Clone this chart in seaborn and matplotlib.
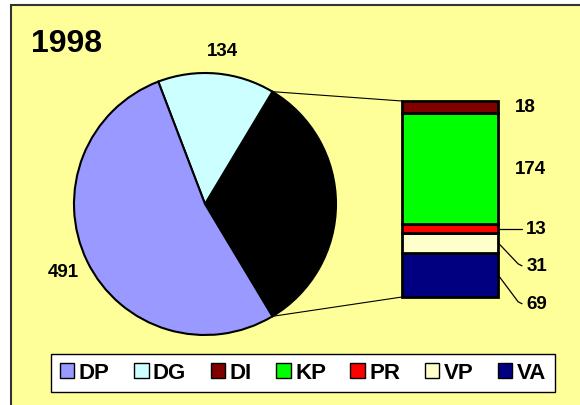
import matplotlib
matplotlib.use("Agg")
import matplotlib.pyplot as plt
from matplotlib.patches import Rectangle, Patch, ConnectionPatch
import seaborn as sns
import numpy as np

# Data
year = "1998"
pie_labels = ["DP", "DG"]
pie_values = [491, 134]
bar_labels = ["DI", "KP", "PR", "VP", "VA"]
bar_values = [18, 174, 13, 31, 69]
legend_labels = ["DP", "DG", "DI", "KP", "PR", "VP", "VA"]
palette = {
    "DP": "#9999FF",
    "DG": "#CCFFFF",
    "DI": "#800000",
    "KP": "#00FF00",
    "PR": "#FF0000",
    "VP": "#FFFFCC",
    "VA": "#000080",
}
other_color = "#000000"
panel_color = "#FFFF99"

sns.set_theme(style="white")
plt.rcParams["font.family"] = ["Liberation Sans", "DejaVu Sans"]
plt.rcParams["font.weight"] = "bold"
plt.rcParams["text.color"] = "black"

W, H = 580, 406
fig = plt.figure(figsize=(W / 100, H / 100), dpi=100, facecolor="white")

# Yellow chart panel with dark outline
fig.patches.append(Rectangle((11 / W, -0.1), 1.2, (H - 6) / H + 0.1,
                             transform=fig.transFigure, facecolor=panel_color,
                             edgecolor="#333333", linewidth=1.5, zorder=-5))

# Main axes in pixel-like units (y up)
ax = fig.add_axes([0, 0, 1, 1])
ax.patch.set_alpha(0)

other_total = sum(bar_values)
total = other_total + sum(pie_values)
pie_vals = [other_total, pie_values[1], pie_values[0]]
pie_cols = [other_color, palette["DG"], palette["DP"]]
start = -other_total / total * 360 / 2
cx, cy, r = 205, 201, 131
wedges, _ = ax.pie(pie_vals, colors=pie_cols, startangle=start, counterclock=True,
                   radius=r, center=(cx, cy),
                   wedgeprops=dict(edgecolor="black", linewidth=1.5))
ax.set_xlim(0, W)
ax.set_ylim(0, H)
ax.set_aspect("equal")
ax.set_axis_off()

# Value labels on the pie (DG and DP), with small nudges in pixels
for w, val, (ox, oy) in zip(wedges[1:], [pie_values[1], pie_values[0]], [(4, -3), (0, 1)]):
    mid = np.deg2rad((w.theta1 + w.theta2) / 2)
    ax.text(cx + 1.2 * r * np.cos(mid) + ox, cy + 1.2 * r * np.sin(mid) + oy, str(val),
            ha="center", va="center", fontsize=13.5, fontweight="bold")

# Stacked bar breaking down the "other" slice
bax = fig.add_axes([402 / W, (H - 298) / H, 96 / W, 196 / H])
bax.set_xlim(-0.5, 0.5)
bax.set_ylim(0, other_total)
bax.set_axis_off()
bax.patch.set_alpha(0)

stack_labels = bar_labels[::-1]
stack_values = bar_values[::-1]
bottoms = np.concatenate([[0], np.cumsum(stack_values)[:-1]])
for lab, v, b in zip(stack_labels, stack_values, bottoms):
    bax.bar(0, v, bottom=b, width=1, color=palette[lab], edgecolor="black",
            linewidth=2, clip_on=False)

mids = {lab: b + v / 2 for lab, v, b in zip(stack_labels, stack_values, bottoms)}
vals = dict(zip(bar_labels, bar_values))

# Labels in the space to the right of the bar
for lab in ["DI", "KP"]:
    bax.text(0.68, mids[lab], str(vals[lab]), ha="left", va="center",
             fontsize=13.5, fontweight="bold", clip_on=False)

# Labels with leader lines
leader = {"PR": 0, "VP": -36, "VA": -45}
for lab, dy in leader.items():
    y0 = mids[lab]
    y1 = y0 + dy
    if dy == 0:
        xs, ys = [0.5, 0.75], [y0, y0]
    else:
        xs, ys = [0.5, 0.71, 0.75], [y0, y1 + 3, y1]
    bax.plot(xs, ys, color="black", linewidth=0.9, clip_on=False)
    bax.text(1.01, y1, str(vals[lab]), ha="right", va="center",
             fontsize=13.5, fontweight="bold", clip_on=False)

# Connector lines from the pie slice to the bar
w0 = wedges[0]
for ang, yb in [(w0.theta2, other_total), (w0.theta1, 0)]:
    a = np.deg2rad(ang)
    con = ConnectionPatch(xyA=(cx + r * np.cos(a), cy + r * np.sin(a)), coordsA=ax.transData,
                          xyB=(-0.5, yb), coordsB=bax.transData,
                          color="black", linewidth=0.8)
    fig.add_artist(con)

# Title
fig.text(31 / W, 1 - 44 / H, year, ha="left", va="center", fontsize=23, fontweight="bold")

# Legend
handles = [Patch(facecolor=palette[l], edgecolor="black", linewidth=1.0) for l in legend_labels]
leg = fig.legend(handles, legend_labels, loc="center",
                 bbox_to_anchor=(303 / W, 1 - 374 / H), ncol=7,
                 frameon=True, fancybox=False, edgecolor="black", framealpha=1,
                 handlelength=0.65, handleheight=0.65, handletextpad=0.2,
                 columnspacing=1.1, borderpad=0.4,
                 prop=dict(size=16, weight="bold"))
leg.get_frame().set_linewidth(1.0)

fig.savefig("out.png", dpi=100, facecolor="white")
